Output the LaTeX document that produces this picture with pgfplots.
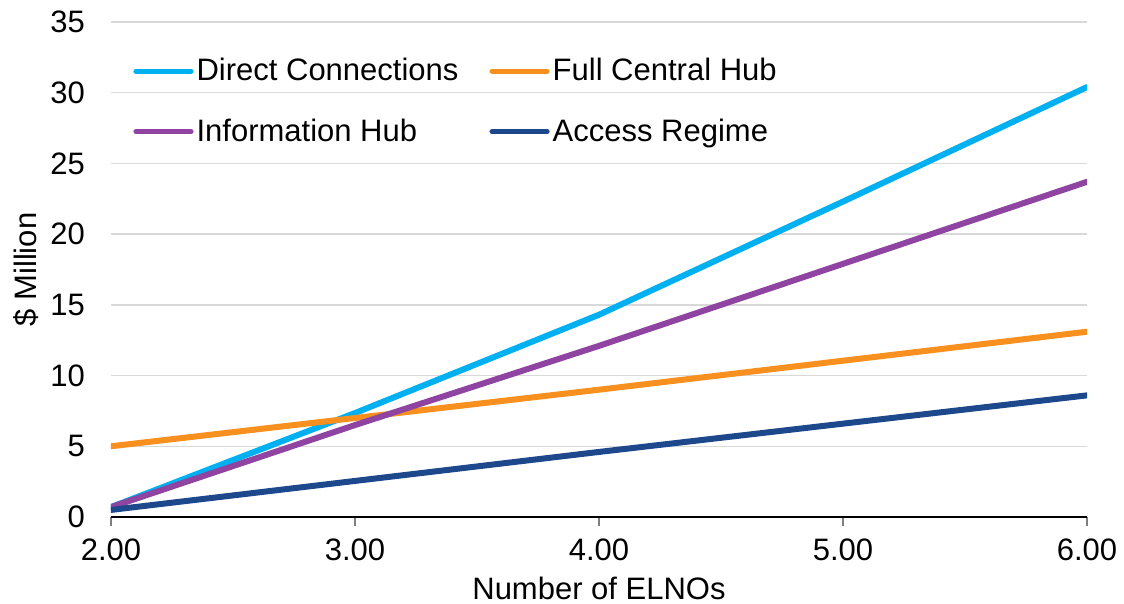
\documentclass[border=0pt]{standalone}
\usepackage{pgfplots}
\pgfplotsset{compat=1.18}
\usepackage{fontspec}
\setmainfont{Liberation Sans}

\definecolor{cDirect}{RGB}{0,176,240}
\definecolor{cFull}{RGB}{247,144,30}
\definecolor{cInfo}{RGB}{142,68,160}
\definecolor{cAccess}{RGB}{30,72,140}
\definecolor{cGrid}{RGB}{217,217,217}
\definecolor{cTick}{RGB}{128,128,128}

\newcommand{\chartfont}{\fontsize{15.5}{18}\selectfont}

\begin{document}
\begin{tikzpicture}
\useasboundingbox (-55.5pt,-43.5pt) rectangle (506.5pt,258.5pt);
\begin{axis}[
  at={(0,0)}, anchor=south west,
  scale only axis,
  width=488pt, height=247.5pt,
  xmin=2, xmax=6, ymin=0, ymax=35,
  xtick={2,3,4,5,6},
  ytick={0,5,...,35},
  axis lines*=left,
  x axis line style={black, line width=0.6pt},
  y axis line style={draw=none},
  ymajorgrids,
  grid style={cGrid, line width=0.7pt},
  tick align=outside,
  major tick length=4.5pt,
  xtick style={cTick, line width=0.8pt},
  ytick style={draw=none},
  tick label style={font=\chartfont},
  /pgf/number format/assume math mode=true,
  xticklabel style={/pgf/number format/.cd, fixed, fixed zerofill, precision=2, /tikz/.cd, yshift=-3pt},
  yticklabel style={xshift=-5pt},
  xlabel={Number of ELNOs},
  ylabel={\$ Million},
  every axis x label/.style={at={(axis description cs:0.5,0)}, anchor=center, yshift=-35.5pt, font=\chartfont},
  every axis y label/.style={at={(axis description cs:0,0.5)}, anchor=center, xshift=-42.5pt, rotate=90, font=\chartfont},
  legend columns=2,
  legend cell align=left,
  legend style={draw=none, fill=none, font=\chartfont,
    at={(rel axis cs:0,1)}, anchor=north west, xshift=8pt, yshift=-14pt,
    row sep=13.5pt,
    nodes={inner xsep=1.5pt},
    /tikz/every even column/.append style={column sep=14pt}},
  legend image code/.code={\draw[#1, line width=2.6pt, line cap=round] (0pt,0pt) -- (27.5pt,0pt);},
  every axis plot/.append style={line width=3pt, line cap=round, line join=round},
]
\addplot[cDirect] coordinates {(2,0.7) (3,7.35) (4,14.3) (5,22.3) (6,30.4)};
\addlegendentry{Direct Connections}
\addplot[cFull] coordinates {(2,5.0) (3,7.0) (4,9.0) (5,11.05) (6,13.1)};
\addlegendentry{Full Central Hub}
\addplot[cInfo] coordinates {(2,0.7) (3,6.5) (4,12.1) (5,17.9) (6,23.7)};
\addlegendentry{Information Hub}
\addplot[cAccess] coordinates {(2,0.5) (3,2.55) (4,4.6) (5,6.6) (6,8.6)};
\addlegendentry{Access Regime}
\end{axis}
\end{tikzpicture}
\end{document}
